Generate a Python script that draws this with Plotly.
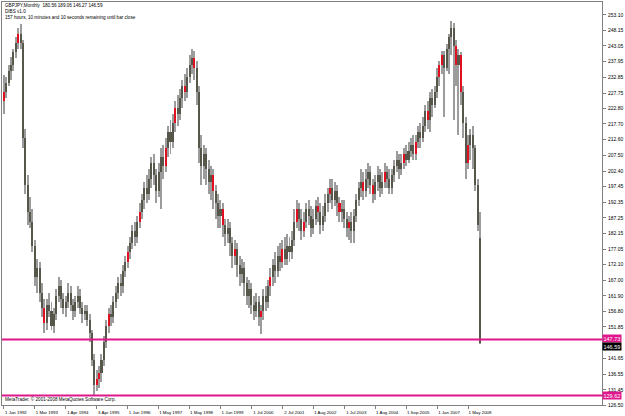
import plotly.graph_objects as go

# ---------------- data ----------------
opens = [225, 228, 231, 235, 237, 241, 244, 247, 244, 213,
         198, 189, 186, 178, 168, 171, 163, 158, 153, 159,
         157, 152, 156, 162, 165, 161, 158, 160, 163, 159,
         157, 160, 162, 158, 156, 157, 154, 150, 141, 133,
         135, 137, 141, 147, 152, 156, 155, 160, 163, 166,
         165, 170, 173, 176, 179, 183, 181, 186, 189, 193,
         197, 195, 200, 205, 201, 196, 202, 207, 204, 210,
         215, 212, 218, 223, 221, 226, 230, 228, 233, 237,
         239, 236, 228, 210, 204, 208, 203, 199, 201, 196,
         192, 188, 190, 185, 182, 184, 179, 175, 177, 172,
         169, 171, 166, 162, 164, 159, 157, 160, 155, 157,
         162, 160, 165, 168, 172, 170, 175, 173, 177, 174,
         178, 176, 180, 186, 190, 187, 183, 186, 190, 188,
         184, 187, 191, 189, 185, 188, 192, 195, 197, 193,
         196, 192, 189, 190, 187, 184, 186, 183, 188, 193,
         197, 199, 196, 200, 202, 198, 195, 199, 201, 197,
         199, 202, 200, 197, 201, 204, 206, 203, 205, 208,
         206, 209, 211, 208, 212, 215, 213, 217, 222, 219,
         226, 224, 228, 233, 237, 240, 236, 242, 246, 249,
         243, 237, 240, 228, 218, 205, 211, 214, 210, 198,
         180.56]
highs = [233.5, 233, 237, 239.5, 242, 246, 249, 250, 245, 216,
         201, 194, 190, 180, 174, 173, 166, 161, 161, 163,
         160, 158, 164, 168, 167, 163, 162, 166, 165, 161,
         162, 165, 164, 160, 159, 159, 156, 151, 143, 138,
         139, 143, 149, 154, 158, 159, 162, 165, 168, 169,
         172, 175, 178, 181, 185, 186, 188, 192, 195, 199,
         201, 203, 207, 208, 203, 205, 210, 211, 213, 217,
         219, 221, 225, 227, 229, 232, 234, 236, 240, 242,
         241.5, 238, 230, 214, 211, 210, 206, 204, 203, 198,
         195, 193, 192, 187, 187, 186, 181, 180, 179, 175,
         174, 173, 168, 167, 166, 162, 163, 162, 159, 164,
         165, 167, 171, 174, 176, 178, 179, 180, 181, 182,
         181, 183, 190, 193, 192, 190, 189, 192, 193, 191,
         190, 193, 194, 192, 191, 195, 197, 200, 200, 199,
         198, 194, 193, 193, 189, 188, 189, 190, 195, 199,
         203, 202, 203, 205, 204, 200, 201, 204, 203, 202,
         205, 204, 203, 203, 206, 209, 208, 208, 210, 211,
         212, 213, 214, 214, 217, 218, 220, 224, 225, 228,
         229, 230, 236, 238, 241.5, 241.5, 243.5, 247, 251, 250.5,
         245, 242, 241, 230, 220, 214, 216, 217, 211, 200,
         189.06]
lows = [221, 226, 230, 232, 235, 239, 242, 242, 210, 195,
        185, 184, 176, 165, 163, 160, 155, 150, 151, 155,
        151, 150, 154, 160, 158, 156, 155, 158, 157, 154,
        155, 158, 156, 153, 154, 152, 147, 139, 129.62, 131,
        132, 134, 139, 145, 150, 152, 153, 158, 161, 162,
        163, 168, 171, 174, 177, 178, 179, 184, 187, 190,
        192, 193, 197, 198, 192, 194, 190, 200, 202, 207,
        208, 210, 215, 217, 219, 223, 225, 226, 231, 234,
        232, 224, 205, 198, 200, 198, 195, 193, 190, 187,
        184, 184, 181, 178, 179, 175, 171, 172, 168, 165,
        166, 162, 159, 158, 156, 154, 155, 152, 149.5, 154,
        157, 158, 162, 165, 166, 168, 170, 171, 172, 172,
        173, 174, 178, 184, 183, 180, 181, 184, 185, 181,
        182, 185, 186, 182, 183, 186, 189, 192, 190, 191,
        188, 186, 186, 184, 181, 180, 179, 179, 186, 191,
        194, 193, 194, 197, 195, 192, 193, 196, 194, 195,
        197, 197, 195, 195, 199, 202, 200, 201, 203, 204,
        205, 207, 206, 206, 210, 210, 212, 215, 216, 215,
        220, 223, 226, 230, 234, 220, 235, 234, 240, 219,
        230, 214, 224, 213, 200, 203, 206, 203, 196, 183,
        146.27]
closes = [228, 231, 235, 237, 241, 244, 247, 244, 213, 198,
          189, 186, 178, 168, 171, 163, 158, 153, 159, 157,
          152, 156, 162, 165, 161, 158, 160, 163, 159, 157,
          160, 162, 158, 156, 157, 154, 150, 141, 133, 135,
          137, 141, 147, 152, 156, 155, 160, 163, 166, 165,
          170, 173, 176, 179, 183, 181, 186, 189, 193, 197,
          195, 200, 205, 201, 196, 202, 207, 204, 210, 215,
          212, 218, 223, 221, 226, 230, 228, 233, 237, 239,
          236, 228, 210, 204, 208, 203, 199, 201, 196, 192,
          188, 190, 185, 182, 184, 179, 175, 177, 172, 169,
          171, 166, 162, 164, 159, 157, 160, 155, 157, 162,
          160, 165, 168, 172, 170, 175, 173, 177, 174, 178,
          176, 180, 186, 190, 187, 183, 186, 190, 188, 184,
          187, 191, 189, 185, 188, 192, 195, 197, 193, 196,
          192, 189, 190, 187, 184, 186, 183, 188, 193, 197,
          199, 196, 200, 202, 198, 195, 199, 201, 197, 199,
          202, 200, 197, 201, 204, 206, 203, 205, 208, 206,
          209, 211, 208, 212, 215, 213, 217, 222, 219, 226,
          224, 228, 233, 237, 240, 236, 242, 246, 249, 243,
          237, 240, 228, 218, 205, 211, 214, 210, 198, 185,
          146.59]

# bars flagged by the DIBS indicator (drawn red)
red_bars = [0, 6, 17, 39, 40, 44, 52, 57, 68, 72, 76, 80, 88, 92, 97,
            108, 112, 117, 123, 126, 132, 137, 141, 145, 151, 155, 160,
            168, 173, 178, 183, 184, 190, 192, 195]

tick_bars = [0, 13, 26, 39, 52, 65, 78, 91, 104, 117, 130, 143, 156, 169, 182, 195]
tick_labels = ["1 Jan 1992", "1 Mar 1993", "1 Apr 1994", "3 Apr 1995", "1 Jun 1996",
               "1 May 1997", "1 May 1998", "1 Jun 1999", "1 Jul 2000", "2 Jul 2001",
               "1 Aug 2002", "1 Jul 2003", "1 Aug 2004", "1 Sep 2005", "1 Jan 2007",
               "1 May 2008"]

price_ticks = [253.10, 248.15, 243.05, 237.95, 232.85, 227.75, 222.80, 217.70, 212.60,
               207.50, 202.40, 197.45, 192.35, 187.25, 182.15, 177.05, 172.10, 167.00,
               161.90, 156.80, 151.85, 141.65, 136.55, 131.45, 126.50]

level_lines = [147.73, 129.62]
bid_price = 146.59
header = "GBPJPY,Monthly  180.56 189.06 146.27 146.59"

# ---------------- figure ----------------
n = len(closes)
xs = list(range(n))
body_base = [min(o, c) for o, c in zip(opens, closes)]
body_h = [max(abs(c - o), 0.35) for o, c in zip(opens, closes)]
wick_h = [h - l for h, l in zip(highs, lows)]
body_col = ["#e01020" if i in red_bars else "#56564a" for i in xs]

PINK = "#e0168c"
FONT = "Liberation Sans"

fig = go.Figure()
fig.add_trace(go.Bar(x=xs, y=wick_h, base=lows, width=0.42,
                     marker=dict(color="#9c9c9c", line=dict(width=0)),
                     hoverinfo="skip", showlegend=False))
fig.add_trace(go.Bar(x=xs, y=body_h, base=body_base, width=0.85,
                     marker=dict(color=body_col, line=dict(width=0)),
                     hoverinfo="skip", showlegend=False))

for lv in level_lines:
    fig.add_shape(type="line", xref="paper", x0=0, x1=1, y0=lv, y1=lv,
                  line=dict(color=PINK, width=2), layer="above")

# price labels on the axis
fig.add_annotation(xref="paper", x=1, y=level_lines[0], xanchor="left", yanchor="middle",
                   text=f"{level_lines[0]:.2f}", showarrow=False, bgcolor=PINK,
                   font=dict(family=FONT, size=5.5, color="white"), borderpad=0.5, yshift=1)
fig.add_annotation(xref="paper", x=1, y=bid_price, xanchor="left", yanchor="middle",
                   text=f"{bid_price:.2f}", showarrow=False, bgcolor="black",
                   font=dict(family=FONT, size=5.5, color="white"), borderpad=0.5, yshift=-3)
fig.add_annotation(xref="paper", x=1, y=level_lines[1], xanchor="left", yanchor="middle",
                   text=f"{level_lines[1]:.2f}", showarrow=False, bgcolor=PINK,
                   font=dict(family=FONT, size=5.5, color="white"), borderpad=0.5)

# header texts
for txt, sh in [(header, -3), ("DIBS v1.0", -9),
                ("157 hours, 10 minutes and 10 seconds remaining until bar close", -15)]:
    fig.add_annotation(xref="paper", yref="paper", x=0, y=1, xanchor="left", yanchor="middle",
                       text=txt, showarrow=False, xshift=1, yshift=sh,
                       font=dict(family=FONT, size=4.6, color="black"))
fig.add_annotation(xref="paper", yref="paper", x=0, y=0, xanchor="left", yanchor="middle",
                   text="MetaTrader, © 2001-2008 MetaQuotes Software Corp.", showarrow=False,
                   xshift=1, yshift=6, font=dict(family=FONT, size=4.6, color="black"))

fig.update_layout(
    width=625, height=416,
    margin=dict(l=1, r=19, t=1, b=9),
    paper_bgcolor="white", plot_bgcolor="white",
    barmode="overlay", bargap=0, showlegend=False,
    xaxis=dict(range=[-0.8, 251.3], tickmode="array", tickvals=tick_bars, ticktext=tick_labels,
               ticks="outside", ticklen=3, tickcolor="#808080", showgrid=False, zeroline=False,
               showline=True, linecolor="#808080", linewidth=1, mirror=True,
               tickfont=dict(family=FONT, size=4.4, color="black"), ticklabelshift=12,
               ticklabelstandoff=0, fixedrange=True),
    yaxis=dict(range=[126.5, 257.29], side="right", tickmode="array", tickvals=price_ticks,
               ticktext=[f"{v:.2f}" for v in price_ticks], ticks="outside", ticklen=3,
               tickcolor="#808080", showgrid=False, zeroline=False, showline=True,
               linecolor="#808080", linewidth=1, mirror=True,
               tickfont=dict(family=FONT, size=5, color="black"), ticklabelstandoff=1,
               fixedrange=True),
)

fig.write_html("out.html")
